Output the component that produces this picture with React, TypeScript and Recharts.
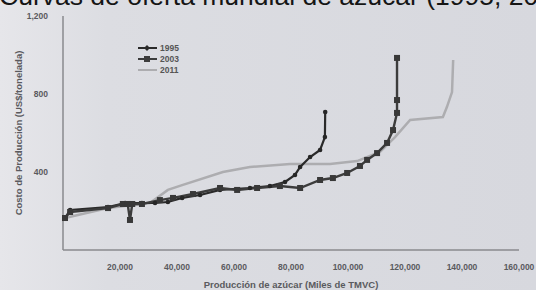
import React from 'react';
import { LineChart, Line, XAxis, YAxis } from 'recharts';

const title = 'Curvas de oferta mundial de azúcar (1995, 2003, 2011)';
const xAxisLabel = 'Producción de azúcar (Miles de TMVC)';
const yAxisLabel = 'Costo de Producción (US$/tonelada)';

const xTicks = [0, 20000, 40000, 60000, 80000, 100000, 120000, 140000, 160000];
const yTicks = [0, 400, 800, 1200];

const x1995 = [700, 2500, 15800, 21800, 27700, 32300, 36800, 41800, 48100, 55100, 65600, 72600, 77900, 81400, 83200, 86700, 90200, 91900, 92000];
const y1995 = [164, 205, 220, 241, 241, 241, 246, 267, 282, 308, 318, 328, 349, 385, 426, 477, 513, 579, 708];

const x2003 = [700, 2500, 15800, 21000, 22700, 23500, 24300, 27700, 34000, 38600, 45600, 55100, 61100, 68100, 76100, 83200, 90200, 94700, 99700, 104200, 106700, 110200, 113700, 115800, 117200, 117200, 117200];
const y2003 = [164, 195, 215, 236, 236, 154, 236, 236, 256, 267, 287, 318, 308, 318, 328, 318, 359, 369, 395, 431, 462, 497, 549, 615, 703, 769, 985];

const x2011 = [700, 15800, 30500, 36800, 41800, 56100, 65600, 79700, 93700, 103200, 111200, 116500, 121800, 133300, 134700, 136500, 136900];
const y2011 = [164, 215, 241, 308, 333, 400, 426, 441, 441, 456, 503, 579, 667, 682, 733, 810, 974];

const toData = (xs: number[], ys: number[]) => xs.map((x, i) => ({ x, y: ys[i] }));
const data1995 = toData(x1995, y1995);
const data2003 = toData(x2003, y2003);
const data2011 = toData(x2011, y2011);

const fmt = (v: number) => (v === 0 ? '' : v.toLocaleString('en-US'));
const FONT = 'Liberation Sans, Arial, sans-serif';

const SquareDot = (props: any) => {
  const { cx, cy, index } = props;
  if (cx == null || cy == null) return <g key={`s${index}`} />;
  return <rect key={`s${index}`} x={cx - 3} y={cy - 3} width={6} height={6} fill="#383838" />;
};
const SmallDot = (props: any) => {
  const { cx, cy, index } = props;
  if (cx == null || cy == null) return <g key={`d${index}`} />;
  return <circle key={`d${index}`} cx={cx} cy={cy} r={2.3} fill="#262626" />;
};

const legendItems = [
  { name: '1995', color: '#2a2a2a', marker: 'diamond' },
  { name: '2003', color: '#3c3c3c', marker: 'square' },
  { name: '2011', color: '#adadb0', marker: 'none' },
];

const LegendBox = () => (
  <svg width={60} height={34} style={{ position: 'absolute', left: 136, top: 43 }}>
    {legendItems.map((it, i) => {
      const y = 5 + i * 11;
      return (
        <g key={it.name}>
          <line x1={2} x2={21} y1={y} y2={y} stroke={it.color} strokeWidth={2} />
          {it.marker === 'diamond' && <polygon points={`11,${y - 3} 14,${y} 11,${y + 3} 8,${y}`} fill={it.color} />}
          {it.marker === 'square' && <rect x={8} y={y - 3} width={6} height={6} fill={it.color} />}
          <text x={24} y={y + 3} fontSize={8.5} fontWeight="bold" fill="#555" fontFamily={FONT}>{it.name}</text>
        </g>
      );
    })}
  </svg>
);

export default function App() {
  return (
    <div style={{ position: 'fixed', left: 0, top: 0, width: 536, height: 290, overflow: 'hidden', background: 'linear-gradient(90deg, #e6e6ea 0%, #dcdde2 20%, #d7d8de 100%)' }}>
      <div style={{ position: 'absolute', left: -1, top: -17, fontSize: 26.5, lineHeight: '26px', whiteSpace: 'nowrap', color: '#151515', fontFamily: FONT }}>
        {title}
      </div>
      <div style={{ position: 'absolute', left: 0, top: 0 }}>
        <LineChart width={536} height={290} margin={{ top: 16, right: 17, bottom: 0, left: 23 }}>
          <XAxis
            dataKey="x"
            type="number"
            domain={[0, 160000]}
            ticks={xTicks}
            tickFormatter={fmt}
            height={40}
            axisLine={{ stroke: '#8a8a8e', strokeWidth: 1.5 }}
            tickLine={false}
            tick={{ fontSize: 8.5, fontWeight: 'bold', fill: '#5a5a5e', fontFamily: FONT }}
            tickMargin={8}
            allowDuplicatedCategory={false}
            label={{ value: xAxisLabel, position: 'insideBottom', offset: 2, fontSize: 9.5, fontWeight: 'bold', fill: '#5a5a5e', fontFamily: FONT }}
          />
          <YAxis
            dataKey="y"
            type="number"
            domain={[0, 1200]}
            ticks={yTicks}
            tickFormatter={fmt}
            width={40}
            axisLine={{ stroke: '#8a8a8e', strokeWidth: 1.5 }}
            tickLine={false}
            tick={{ fontSize: 8.5, fontWeight: 'bold', fill: '#5a5a5e', fontFamily: FONT }}
            tickMargin={9}
            label={{ value: yAxisLabel, angle: -90, position: 'insideLeft', offset: -4, style: { textAnchor: 'middle' }, fontSize: 9.5, fontWeight: 'bold', fill: '#5a5a5e', fontFamily: FONT }}
          />
          <Line data={data2011} dataKey="y" name="2011" stroke="#adadb0" strokeWidth={2.5} dot={false} isAnimationActive={false} />
          <Line data={data1995} dataKey="y" name="1995" stroke="#2a2a2a" strokeWidth={2.2} dot={<SmallDot />} isAnimationActive={false} />
          <Line data={data2003} dataKey="y" name="2003" stroke="#3c3c3c" strokeWidth={2.4} dot={<SquareDot />} isAnimationActive={false} />
        </LineChart>
      </div>
      <LegendBox />
    </div>
  );
}
